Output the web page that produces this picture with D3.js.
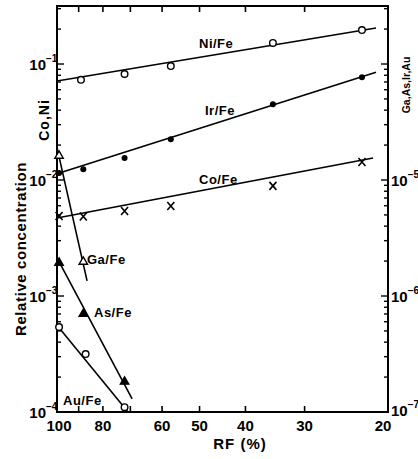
<!DOCTYPE html>
<html><head><meta charset="utf-8">
<script src="https://cdn.jsdelivr.net/npm/d3@7"></script>
<style>
body{margin:0;background:#fff}
text{font-family:"Liberation Sans",Arial,sans-serif;font-weight:bold;fill:#000}
</style>
</head><body>
<svg id="c" width="418" height="459"></svg>
<script>
// ---- data ----
const xMajorTicks = [100, 80, 60, 50, 40, 30, 20];
const xMinorTicks = [90, 70];
const leftDecades = [-4, -3, -2, -1];   // Co, Ni axis
const rightDecades = [-7, -6, -5];      // Ga, As, Ir, Au axis

// Ni/Fe (left axis, open circles)
const niRF  = [89, 72, 57.5, 35, 22.7];
const niVal = [0.073, 0.082, 0.096, 0.152, 0.196];
const niFit = [[100, 0.0713], [21.2, 0.204]];
// Ir/Fe (right axis, filled circles)
const irRF  = [99, 88, 72, 57.5, 35, 22.7];
const irVal = [1.15e-5, 1.24e-5, 1.55e-5, 2.25e-5, 4.5e-5, 7.7e-5];
const irFit = [[100, 1.13e-5], [21.2, 8.5e-5]];
// Co/Fe (left axis, crosses)
const coRF  = [99, 88, 72, 57.5, 35, 22.7];
const coVal = [4.9e-3, 4.85e-3, 5.4e-3, 5.97e-3, 8.9e-3, 1.43e-2];
const coFit = [[100, 4.7e-3], [21.5, 0.0155]];
// Ga/Fe (right axis, open triangles)
const gaRF  = [99, 88];
const gaVal = [1.64e-5, 2.0e-6];
const gaFit = [[100, 1.9e-5], [86.4, 1.35e-6]];
// As/Fe (right axis, filled triangles)
const asRF  = [99, 88, 72];
const asVal = [1.96e-6, 7.1e-7, 1.85e-7];
const asFit = [[100, 2.13e-6], [69.4, 1.3e-7]];
// Au/Fe (right axis, open circles)
const auRF  = [99, 87, 72];
const auVal = [5.4e-7, 3.16e-7, 1.1e-7];
const auFit = [[100, 5.6e-7], [70.8, 1.0e-7]];

// ---- layout ----
const L = 57, R = 388, T = 6, B = 412;
const svg = d3.select("#c");
const x = d3.scaleLog().domain([100, 20]).range([L, R]);
const yL = d3.scaleLog().domain([1e-4, Math.pow(10, -0.5)]).range([B, T]);
const yR = d3.scaleLog().domain([1e-7, Math.pow(10, -3.5)]).range([B, T]);

const g = svg.append("g");

// frame
g.append("rect").attr("x", L).attr("y", T).attr("width", R - L).attr("height", B - T)
  .attr("fill", "none").attr("stroke", "#000").attr("stroke-width", 2);

// x ticks (inward, top and bottom)
const xt = xMajorTicks.concat(xMinorTicks).filter(v => v !== 100 && v !== 20);
xt.forEach(v => {
  g.append("line").attr("x1", x(v)).attr("x2", x(v)).attr("y1", B).attr("y2", B - 6)
    .attr("stroke", "#000").attr("stroke-width", 1.6);
  g.append("line").attr("x1", x(v)).attr("x2", x(v)).attr("y1", T).attr("y2", T + 6)
    .attr("stroke", "#000").attr("stroke-width", 1.6);
});
xMajorTicks.forEach(v => {
  g.append("text").attr("x", x(v) + (v === 20 ? -5 : v === 100 ? 2 : 0)).attr("y", 431)
    .attr("text-anchor", "middle").attr("font-size", 15).text(v);
});
g.append("text").attr("x", 240).attr("y", 449).attr("text-anchor", "middle")
  .attr("font-size", 15).attr("letter-spacing", 1).text("RF (%)");

// y ticks: left and right (inward)
function yTicks(scale, xEdge, dir) {
  const [lo, hi] = scale.domain();
  for (let d = Math.floor(Math.log10(lo)); d <= Math.ceil(Math.log10(hi)); d++) {
    for (let m = 1; m <= 9; m++) {
      const v = m * Math.pow(10, d);
      if (v < lo * 0.999 || v > hi * 1.001) continue;
      const len = m === 1 ? 7 : 4;
      g.append("line").attr("x1", xEdge).attr("x2", xEdge + dir * len)
        .attr("y1", scale(v)).attr("y2", scale(v))
        .attr("stroke", "#000").attr("stroke-width", 1.4);
    }
  }
}
yTicks(yL, L, 1);
yTicks(yR, R, -1);

// power-of-ten labels: base "10" and a separate superscript exponent
function powLabel(baseX, py, exp, anchor) {
  const base = g.append("text").attr("x", baseX).attr("y", py).attr("font-size", 15)
    .attr("text-anchor", anchor).text("10");
  const w = base.node().getComputedTextLength();
  const supX = anchor === "end" ? baseX : baseX + w;
  g.append("text").attr("x", supX).attr("y", py - 8).attr("font-size", 10)
    .text("\u2212" + Math.abs(exp));
}
leftDecades.forEach(d => powLabel(46, yL(Math.pow(10, d)) + 6, d, "end"));
rightDecades.forEach(d => powLabel(391, yR(Math.pow(10, d)) + (d === -7 ? 4 : 6), d, "start"));

// axis titles
g.append("text").attr("transform", "translate(26,249) rotate(-90)").attr("text-anchor", "middle")
  .attr("font-size", 15).attr("letter-spacing", 0.6).text("Relative concentration");
g.append("text").attr("transform", "translate(49,120) rotate(-90)").attr("text-anchor", "middle")
  .attr("font-size", 14).attr("letter-spacing", 1).text("Co,Ni");
g.append("text").attr("transform", "translate(410,85) rotate(-90)").attr("text-anchor", "middle")
  .attr("font-size", 10.5).text("Ga,As,Ir,Au");

// fit lines
const line = (fit, ys) => g.append("line")
  .attr("x1", x(fit[0][0])).attr("y1", ys(fit[0][1]))
  .attr("x2", x(fit[1][0])).attr("y2", ys(fit[1][1]))
  .attr("stroke", "#000").attr("stroke-width", 1.6);
line(niFit, yL); line(irFit, yR); line(coFit, yL);
line(gaFit, yR); line(asFit, yR); line(auFit, yR);

// markers
function markers(rf, vals, ys, type) {
  rf.forEach((r, i) => {
    const cx = x(r), cy = ys(vals[i]);
    if (type === "open") {
      g.append("circle").attr("cx", cx).attr("cy", cy).attr("r", 3.3)
        .attr("fill", "#fff").attr("stroke", "#000").attr("stroke-width", 1.4);
    } else if (type === "dot") {
      g.append("circle").attr("cx", cx).attr("cy", cy).attr("r", 3)
        .attr("fill", "#000");
    } else if (type === "cross") {
      g.append("path").attr("d", `M${cx-3.5},${cy-4}L${cx+3.5},${cy+4}M${cx+3.5},${cy-4}L${cx-3.5},${cy+4}`)
        .attr("stroke", "#000").attr("stroke-width", 1.6).attr("fill", "none");
    } else {
      const s = 4.2;
      g.append("path").attr("d", `M${cx},${cy-s}L${cx+s},${cy+s*0.75}L${cx-s},${cy+s*0.75}Z`)
        .attr("fill", type === "tri" ? "#000" : "#fff")
        .attr("stroke", "#000").attr("stroke-width", 1.4);
    }
  });
}
markers(niRF, niVal, yL, "open");
markers(irRF, irVal, yR, "dot");
markers(coRF, coVal, yL, "cross");
markers(gaRF, gaVal, yR, "otri");
markers(asRF, asVal, yR, "tri");
markers(auRF, auVal, yR, "open");

// series labels
const labels = [["Ni/Fe", 199, 48], ["Ir/Fe", 205, 115], ["Co/Fe", 199, 184],
                ["Ga/Fe", 87, 264], ["As/Fe", 94, 317], ["Au/Fe", 63, 405]];
labels.forEach(([t, lx, ly]) => g.append("text").attr("x", lx).attr("y", ly)
  .attr("font-size", 13).attr("letter-spacing", 0.5).text(t));
</script>
</body></html>
